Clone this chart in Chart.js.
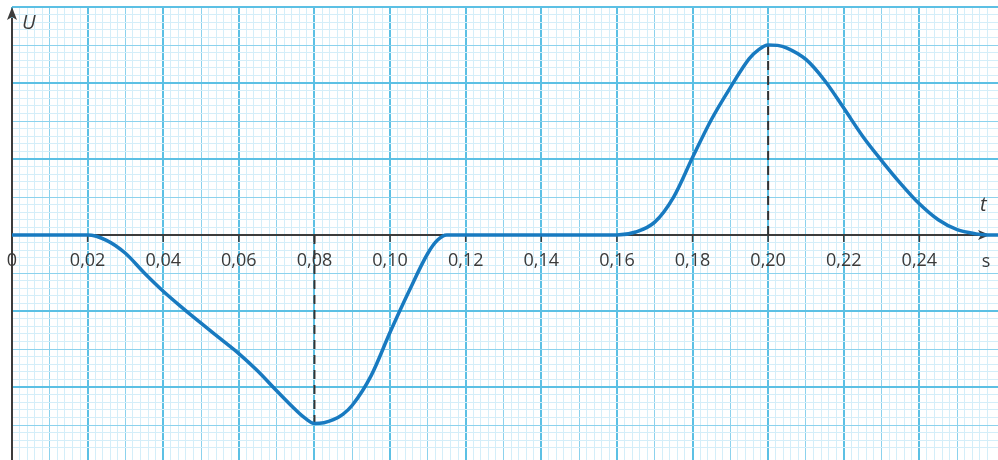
<!DOCTYPE html>
<html>
<head>
<meta charset="utf-8">
<script src="https://cdn.jsdelivr.net/npm/chart.js@4/dist/chart.umd.min.js"></script>
<style>
  html, body { margin: 0; padding: 0; background: #ffffff; }
  canvas { display: block; }
</style>
</head>
<body>
<canvas id="c" width="998" height="460"></canvas>
<script>
// Time (s) and voltage U (one grid square = 1 unit) of the recorded pulse
const timeValues = [0, 0.02, 0.025, 0.03, 0.035, 0.04, 0.045, 0.05, 0.055, 0.06,
  0.065, 0.07, 0.075, 0.0775, 0.08, 0.0825, 0.085, 0.0875, 0.09, 0.095,
  0.10, 0.105, 0.11, 0.1125, 0.115, 0.16, 0.165, 0.17, 0.175, 0.18,
  0.185, 0.19, 0.195, 0.1975, 0.20, 0.2025, 0.205, 0.21, 0.215, 0.22,
  0.225, 0.23, 0.235, 0.24, 0.245, 0.25, 0.255, 0.258, 0.2608];
const voltageValues = [0, 0, -0.07, -0.24, -0.50, -0.74, -0.955, -1.16, -1.36, -1.56,
  -1.79, -2.05, -2.30, -2.41, -2.48, -2.47, -2.43, -2.36, -2.24, -1.85,
  -1.28, -0.74, -0.24, -0.07, 0, 0, 0.04, 0.17, 0.50, 1.02,
  1.52, 1.94, 2.32, 2.44, 2.5, 2.495, 2.46, 2.31, 2.03, 1.67,
  1.30, 0.98, 0.68, 0.41, 0.20, 0.07, 0.015, 0, 0];

// Extremes marked with dashed guides
const minTime = 0.08, minValue = -2.48;
const maxTime = 0.20, maxValue = 2.5;

// Time axis labels
const tickValues = [0, 0.02, 0.04, 0.06, 0.08, 0.10, 0.12, 0.14, 0.16, 0.18, 0.20, 0.22, 0.24];
const tickLabels = ['0', '0,02', '0,04', '0,06', '0,08', '0,10', '0,12', '0,14', '0,16', '0,18', '0,20', '0,22', '0,24'];

const curvePoints = timeValues.map((t, i) => ({ x: t, y: voltageValues[i] }));

const MAJOR = 'rgb(92,192,228)';
const MEDIUM = 'rgb(140,210,237)';
const MINOR = 'rgb(212,238,249)';
const AXIS = '#3c3c3c';

// Graph-paper style grid: bold every 10 small squares, medium every 5
function gridStyle(step) {
  return {
    color: (ctx) => {
      const v = ctx.tick ? ctx.tick.value : 0;
      const n = Math.round(v / step);
      if (Math.abs(v - n * step) > step * 1e-3) return 'rgba(0,0,0,0)';
      if (n % 10 === 0) return MAJOR;
      if (n % 5 === 0) return MEDIUM;
      return MINOR;
    },
    lineWidth: (ctx) => {
      const v = ctx.tick ? ctx.tick.value : 0;
      const n = Math.round(v / step);
      if (n % 10 === 0) return 2;
      return 1;
    },
    drawTicks: false
  };
}

const axesPlugin = {
  id: 'axes',
  beforeDatasetsDraw(chart) {
    const { ctx, scales: { x, y } } = chart;
    const x0 = x.getPixelForValue(0);
    const y0 = y.getPixelForValue(0);
    ctx.save();
    ctx.strokeStyle = AXIS;
    ctx.fillStyle = AXIS;
    ctx.lineWidth = 2;
    // time axis
    ctx.beginPath();
    ctx.moveTo(x0, y0);
    ctx.lineTo(chart.width - 12, y0);
    ctx.stroke();
    ctx.beginPath();
    ctx.moveTo(chart.width - 8, y0);
    ctx.lineTo(chart.width - 20, y0 - 5);
    ctx.lineTo(chart.width - 17, y0);
    ctx.lineTo(chart.width - 20, y0 + 5);
    ctx.closePath();
    ctx.fill();
    // voltage axis
    ctx.beginPath();
    ctx.moveTo(x0, chart.height);
    ctx.lineTo(x0, 18);
    ctx.stroke();
    ctx.beginPath();
    ctx.moveTo(x0, 7);
    ctx.lineTo(x0 - 5, 20);
    ctx.lineTo(x0, 17);
    ctx.lineTo(x0 + 5, 20);
    ctx.closePath();
    ctx.fill();
    // tick marks under the time axis
    ctx.lineWidth = 1.5;
    tickValues.forEach((t) => {
      if (t === 0) return;
      const px = x.getPixelForValue(t);
      ctx.beginPath();
      ctx.moveTo(px, y0);
      ctx.lineTo(px, y0 + 7);
      ctx.stroke();
    });
    ctx.restore();
  },
  afterDraw(chart) {
    const { ctx, scales: { x, y } } = chart;
    const x0 = x.getPixelForValue(0);
    const y0 = y.getPixelForValue(0);
    ctx.save();
    ctx.fillStyle = '#3a3a3a';
    ctx.font = '18px "Open Sans", sans-serif';
    ctx.textAlign = 'center';
    ctx.textBaseline = 'middle';
    tickValues.forEach((t, i) => {
      ctx.fillText(tickLabels[i], x.getPixelForValue(t), y0 + 26);
    });
    ctx.fillText('s', chart.width - 12, y0 + 27);
    ctx.font = 'italic 20px "Open Sans", sans-serif';
    ctx.textAlign = 'left';
    ctx.fillText('U', x0 + 10, 23);
    ctx.fillText('t', chart.width - 18, y0 - 30);
    ctx.restore();
  }
};

new Chart(document.getElementById('c'), {
  type: 'scatter',
  data: {
    datasets: [
      {
        data: curvePoints,
        showLine: true,
        borderColor: 'rgb(24,122,192)',
        borderWidth: 3.5,
        pointRadius: 0,
        cubicInterpolationMode: 'monotone',
        order: 0
      },
      {
        data: [{ x: minTime, y: 0 }, { x: minTime, y: minValue }],
        showLine: true,
        borderColor: '#333333',
        borderWidth: 2,
        borderDash: [9, 6],
        pointRadius: 0,
        order: 1
      },
      {
        data: [{ x: maxTime, y: 0 }, { x: maxTime, y: maxValue }],
        showLine: true,
        borderColor: '#333333',
        borderWidth: 2,
        borderDash: [9, 6],
        pointRadius: 0,
        order: 1
      }
    ]
  },
  options: {
    responsive: false,
    devicePixelRatio: 1,
    animation: false,
    layout: { padding: { left: 12, top: 7, right: 0, bottom: 0 } },
    plugins: { legend: { display: false }, tooltip: { enabled: false } },
    scales: {
      x: {
        type: 'linear',
        min: 0,
        max: 0.2608,
        ticks: { stepSize: 0.002, display: false },
        grid: gridStyle(0.002),
        border: { display: false },
        afterFit: (s) => { s.height = 0; }
      },
      y: {
        type: 'linear',
        min: -2.96,
        max: 3,
        ticks: { stepSize: 0.1, display: false },
        grid: gridStyle(0.1),
        border: { display: false },
        afterFit: (s) => { s.width = 0; }
      }
    }
  },
  plugins: [axesPlugin]
});
</script>
</body>
</html>
